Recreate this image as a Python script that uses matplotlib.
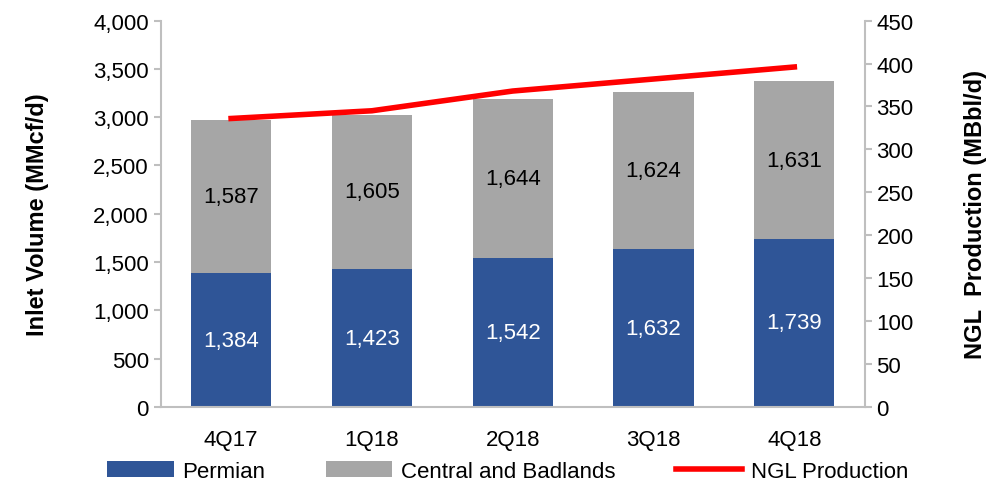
import numpy as np
import matplotlib.pyplot as plt

plt.rcParams['font.family'] = ['Liberation Sans', 'DejaVu Sans']

quarters = ["4Q17", "1Q18", "2Q18", "3Q18", "4Q18"]
permian = [1384, 1423, 1542, 1632, 1739]
central = [1587, 1605, 1644, 1624, 1631]
ngl = [336, 345, 368, 382, 396]

blue = "#2f5597"
grey = "#a6a6a6"
axis_grey = "#bfbfbf"
fs = 16

fig = plt.figure(figsize=(9.86, 4.81), dpi=100)
ax = fig.add_axes([0.163, 0.152, 0.714, 0.803])
x = np.arange(len(quarters))

b1 = ax.bar(x, permian, width=0.57, color=blue, label="Permian")
b2 = ax.bar(x, central, width=0.57, bottom=permian, color=grey, label="Central and Badlands")

for i in range(len(quarters)):
    ax.text(x[i], permian[i] / 2, f"{permian[i]:,}", ha="center", va="center",
            color="white", fontsize=fs)
    ax.text(x[i], permian[i] + central[i] / 2, f"{central[i]:,}", ha="center",
            va="center", color="black", fontsize=fs)

ax.set_xlim(-0.5, len(quarters) - 0.5)
ax.set_ylim(0, 4000)
ax.set_yticks(range(0, 4001, 500))
ax.set_yticklabels([f"{v:,}" for v in range(0, 4001, 500)])
ax.set_ylabel("Inlet Volume (MMcf/d)", fontsize=17, fontweight="bold", labelpad=32)
ax.set_xticks(x)
ax.set_xticklabels(quarters)

ax2 = ax.twinx()
ln, = ax2.plot(x, ngl, color="#ff0000", linewidth=4, label="NGL Production")
ax2.set_ylim(0, 450)
ax2.set_yticks(range(0, 451, 50))
ax2.set_ylabel("NGL  Production (MBbl/d)", fontsize=17, fontweight="bold",
               labelpad=36)

for a in (ax, ax2):
    a.spines["top"].set_visible(False)
    for s in ("left", "right", "bottom"):
        a.spines[s].set_color(axis_grey)
        a.spines[s].set_linewidth(1.5)
    a.tick_params(axis="y", colors=axis_grey, labelcolor="black", labelsize=fs,
                  length=5, width=1.5)
    a.tick_params(axis="x", length=0, labelsize=fs, pad=16)
ax.spines["right"].set_visible(False)
ax2.spines["left"].set_visible(False)
ax2.spines["bottom"].set_visible(False)

fig.legend([b1, b2, ln], ["Permian", "Central and Badlands", "NGL Production"],
           loc="lower center", bbox_to_anchor=(0.515, -0.045), ncol=3, frameon=False,
           fontsize=fs, handlelength=3.0, columnspacing=2.7, handletextpad=0.4)

fig.savefig("out.png", dpi=100)
